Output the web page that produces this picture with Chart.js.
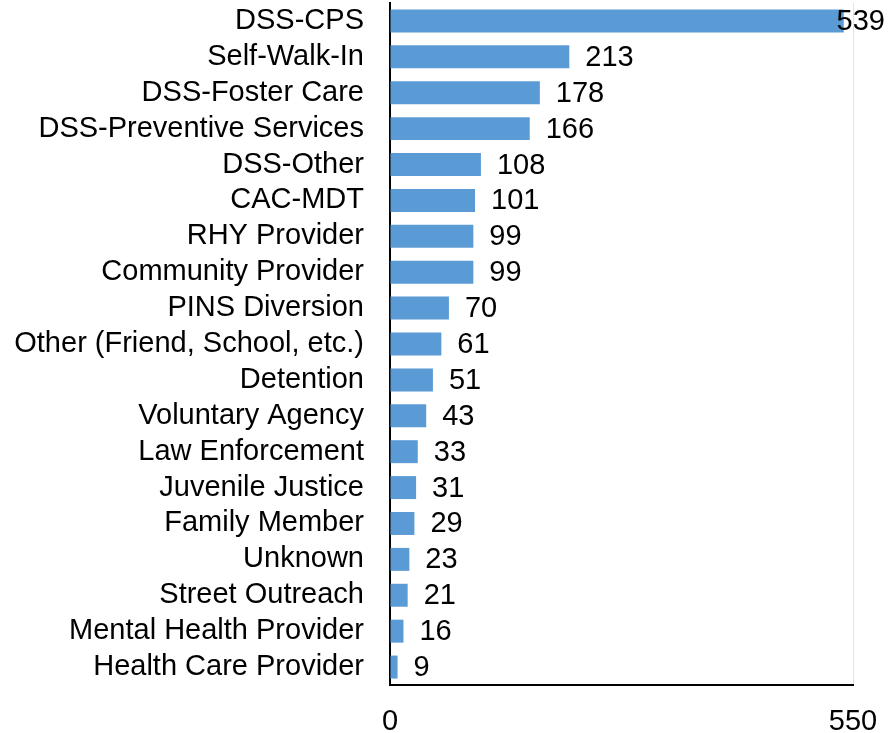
<!DOCTYPE html>
<html>
<head>
<meta charset="utf-8">
<script src="https://cdn.jsdelivr.net/npm/chart.js@4.4.0/dist/chart.umd.min.js"></script>
<style>
  html, body { margin: 0; padding: 0; background: #fff; }
  #wrap { width: 888px; height: 733px; position: relative; }
</style>
</head>
<body>
<div id="wrap"><canvas id="myChart" width="888" height="733"></canvas></div>
<script>
const categories = ["DSS-CPS", "Self-Walk-In", "DSS-Foster Care", "DSS-Preventive Services", "DSS-Other",
  "CAC-MDT", "RHY Provider", "Community Provider", "PINS Diversion", "Other (Friend, School, etc.)",
  "Detention", "Voluntary Agency", "Law Enforcement", "Juvenile Justice", "Family Member",
  "Unknown", "Street Outreach", "Mental Health Provider", "Health Care Provider"];
const referrals = [539, 213, 178, 166, 108, 101, 99, 99, 70, 61, 51, 43, 33, 31, 29, 23, 21, 16, 9];
const xTicks = [0, 550];

const FONT = "'Liberation Sans', Arial, sans-serif";

// value labels next to each bar, kept inside the canvas like Excel does
const valueLabels = {
  id: "valueLabels",
  afterDatasetsDraw(chart) {
    const ctx = chart.ctx;
    const meta = chart.getDatasetMeta(0);
    ctx.save();
    ctx.font = "29px " + FONT;
    ctx.fillStyle = "#000";
    ctx.textBaseline = "middle";
    ctx.textAlign = "left";
    meta.data.forEach((bar, i) => {
      const txt = String(referrals[i]);
      const w = ctx.measureText(txt).width;
      const x = Math.min(bar.x + 16, chart.width - 3 - w);
      ctx.fillText(txt, x, bar.y + 1);
    });
    ctx.restore();
  }
};

let myChart = new Chart(document.getElementById("myChart").getContext("2d"), {
  type: "bar",
  data: {
    labels: categories,
    datasets: [{
      data: referrals,
      backgroundColor: "#5B9BD5",
      categoryPercentage: 1,
      barPercentage: 0.64
    }]
  },
  options: {
    indexAxis: "y",
    responsive: false,
    animation: false,
    layout: { padding: { top: 3, right: 35, left: 0, bottom: 0 } },
    plugins: { legend: { display: false }, tooltip: { enabled: false } },
    scales: {
      x: {
        min: 0,
        max: 550,
        afterBuildTicks: (scale) => { scale.ticks = xTicks.map(v => ({ value: v })); },
        afterFit: (scale) => { scale.height = 48; scale.paddingLeft = 0; scale.paddingRight = 0; },
        grid: { color: "#e4e4e4", drawTicks: false, lineWidth: 1 },
        border: { display: true, color: "#000", width: 2 },
        ticks: { color: "#000", font: { size: 29, family: FONT }, padding: 20, maxRotation: 0 }
      },
      y: {
        afterFit: (scale) => { scale.width = 390; scale.paddingTop = 0; scale.paddingBottom = 0; },
        grid: { display: false, drawTicks: false },
        border: { display: true, color: "#000", width: 2 },
        ticks: { color: "#000", font: { size: 29, family: FONT }, padding: 26, autoSkip: false }
      }
    }
  },
  plugins: [valueLabels]
});
</script>
</body>
</html>
